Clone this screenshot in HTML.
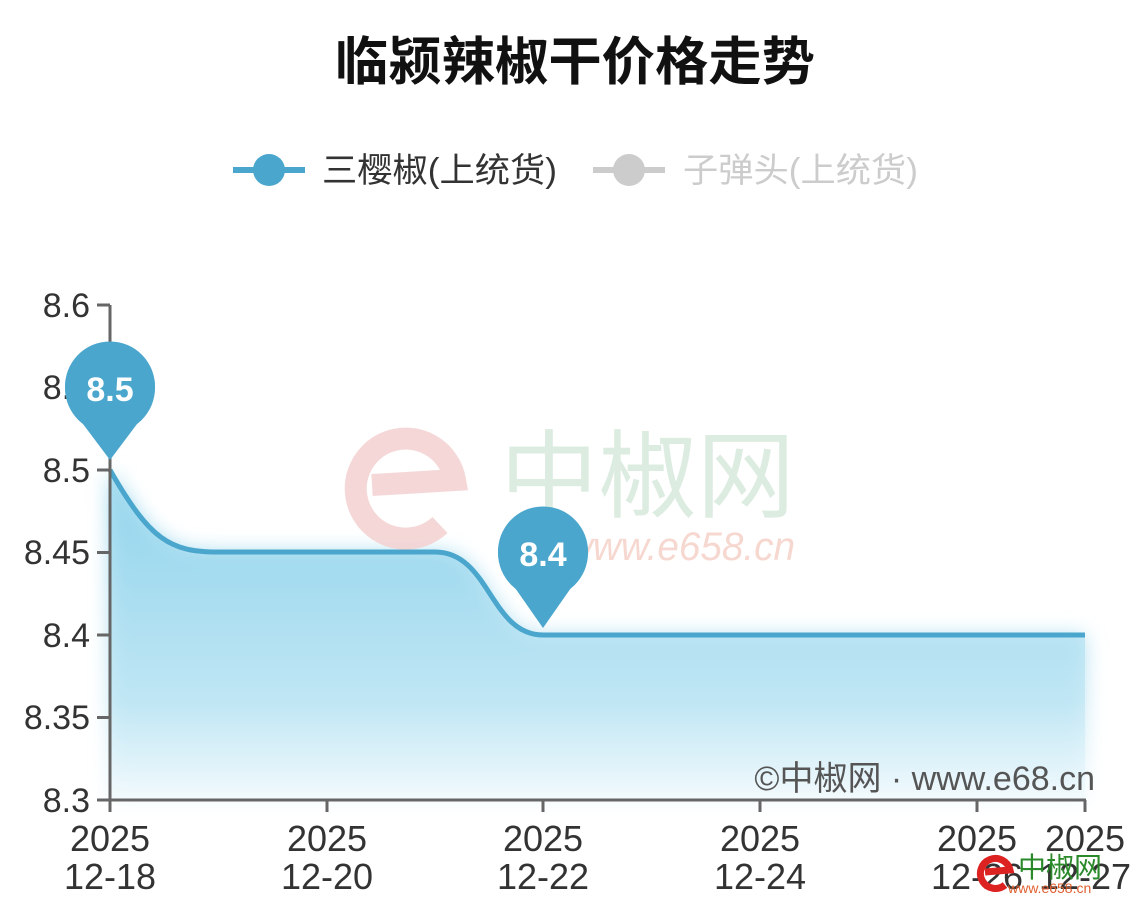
<!DOCTYPE html>
<html><head><meta charset="utf-8"><style>
body{margin:0;background:#fff;width:1145px;height:913px;overflow:hidden}
text{font-family:"Liberation Sans","Noto Sans CJK SC",sans-serif}
</style></head><body>
<svg width="1145" height="913" viewBox="0 0 1145 913">
<defs>
<linearGradient id="g" x1="0" y1="0" x2="0" y2="1">
<stop offset="0" stop-color="#8fd3ec"/><stop offset="0.7" stop-color="#bfe6f4"/><stop offset="1" stop-color="#f2fafd"/>
</linearGradient>
<filter id="b"><feGaussianBlur stdDeviation="10"/></filter>
</defs>
<text x="575" y="80" text-anchor="middle" font-size="52" font-weight="bold" fill="#111" textLength="480" lengthAdjust="spacingAndGlyphs">临颍辣椒干价格走势</text>
<line x1="233" y1="170" x2="305" y2="170" stroke="#4aa6cc" stroke-width="6"/>
<circle cx="269" cy="170" r="16" fill="#4aa6cc"/>
<text x="322" y="182" font-size="34" fill="#333" textLength="235" lengthAdjust="spacingAndGlyphs">三樱椒(上统货)</text>
<line x1="593" y1="170" x2="665" y2="170" stroke="#ccc" stroke-width="6"/>
<circle cx="629" cy="170" r="16" fill="#ccc"/>
<text x="683" y="182" font-size="34" fill="#ccc" textLength="235" lengthAdjust="spacingAndGlyphs">子弹头(上统货)</text>
<path d="M110,470 C150,540 170,552 218,552 L435,552 C490,552 490,635 543,635 L1085,635 L1085,800 L110,800 Z" fill="url(#g)" filter="url(#b)"/>
<path d="M110,470 C150,540 170,552 218,552 L435,552 C490,552 490,635 543,635 L1085,635 L1085,800 L110,800 Z" fill="url(#g)" opacity="0.7"/>
<text x="500" y="510" font-size="96" fill="#d7e9dc" opacity="0.85" textLength="295" lengthAdjust="spacingAndGlyphs">中椒网</text>
<text x="565" y="560" font-size="40" font-style="italic" fill="#f6d8d0" textLength="230" lengthAdjust="spacingAndGlyphs">www.e658.cn</text>
<path d="M372,485 L455,480 A50,50 0 1 0 440,525" fill="none" stroke="#f3d0d0" stroke-width="22" opacity="0.85"/>
<path d="M110,470 C150,540 170,552 218,552 L435,552 C490,552 490,635 543,635 L1085,635" fill="none" stroke="#4aa6cc" stroke-width="5"/>
<g stroke="#666" stroke-width="3" fill="none">
<path d="M110,305 V800 H1086"/>
<path d="M97,305H110M97,387.5H110M97,470H110M97,552.5H110M97,635H110M97,717.5H110M97,800H110"/>
<path d="M110,800V812M327,800V812M543,800V812M760,800V812M977,800V812M1085,800V812"/>
</g>
<g font-size="34" fill="#333" text-anchor="end">
<text x="90" y="317">8.6</text><text x="90" y="399">8.5</text><text x="90" y="482">8.5</text>
<text x="90" y="564">8.45</text><text x="90" y="647">8.4</text><text x="90" y="729">8.35</text><text x="90" y="812">8.3</text>
</g>
<g font-size="36" fill="#333" text-anchor="middle">
<text x="110" y="851">2025</text><text x="110" y="889">12-18</text>
<text x="327" y="851">2025</text><text x="327" y="889">12-20</text>
<text x="543" y="851">2025</text><text x="543" y="889">12-22</text>
<text x="760" y="851">2025</text><text x="760" y="889">12-24</text>
<text x="977" y="851">2025</text><text x="977" y="889">12-26</text>
<text x="1085" y="851">2025</text><text x="1085" y="889">12-27</text>
</g>
<text x="1095" y="790" text-anchor="end" font-size="34" fill="#555">©中椒网 · www.e68.cn</text>
<path d="M80,420 A45,45 0 1 1 140,420 L110,460 Z" fill="#4aa6cc"/>
<circle cx="110" cy="388" r="45" fill="#4aa6cc"/>
<text x="110" y="401" text-anchor="middle" font-size="34" font-weight="bold" fill="#fff">8.5</text>
<path d="M513,585 A45,45 0 1 1 573,585 L543,628 Z" fill="#4aa6cc"/>
<circle cx="543" cy="553" r="45" fill="#4aa6cc"/>
<text x="543" y="566" text-anchor="middle" font-size="34" font-weight="bold" fill="#fff">8.4</text>
<path d="M985,872 L1010,870 A15,15 0 1 0 1005,885" fill="none" stroke="#d22" stroke-width="7"/>
<text x="1018" y="877" font-size="28" fill="#2a8a2a">中椒网</text>
<text x="1008" y="893" font-size="14" fill="#e06030">www.e658.cn</text>
</svg>
</body></html>
